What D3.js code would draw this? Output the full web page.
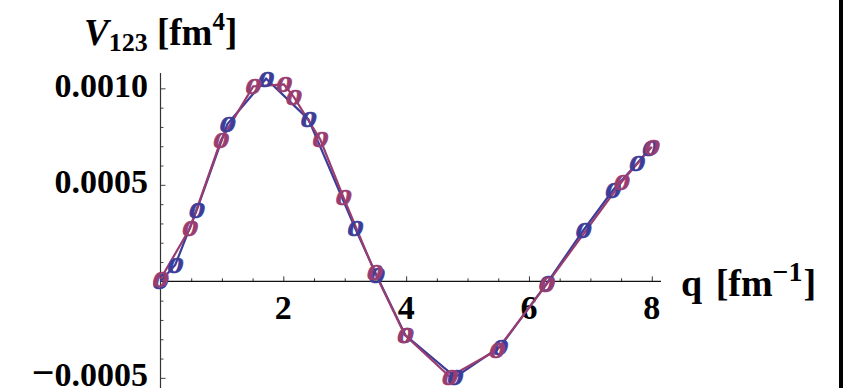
<!DOCTYPE html>
<html>
<head>
<meta charset="utf-8">
<script src="https://cdn.jsdelivr.net/npm/d3@7"></script>
<style>
  html, body { margin: 0; padding: 0; background: #ffffff; }
  svg { display: block; }
  text { font-family: "Liberation Serif", "Times New Roman", serif; font-weight: bold; }
</style>
</head>
<body>
<div id="plot"></div>
<script>
// data (q in fm^-1, V123 in fm^4)
const blueQ = [0, 0.24, 0.59, 1.09, 1.72, 2.41, 3.17, 3.52, 3.99, 4.80, 5.53, 6.29, 6.89, 7.37, 7.76, 7.97];
const blueV = [0, 0.000085, 0.000369, 0.000815, 0.00105, 0.000839, 0.000275, 0.00003, -0.00028, -0.000496, -0.000339, -0.00001, 0.000266, 0.000473, 0.000611, 0.000689];

const purpleQ = [0, 0.48, 0.985, 1.51, 2.01, 2.17, 2.60, 2.98, 3.49, 3.98, 4.71, 5.48, 6.29, 7.51, 8.0];
const purpleV = [0.000012, 0.000275, 0.000732, 0.00101, 0.00102, 0.000956, 0.000736, 0.000435, 0.000045, -0.000278, -0.000494, -0.000356, -0.000014, 0.000516, 0.000697];

const xTickLabels = [2, 4, 6, 8];
const yTickLabels = [0.0010, 0.0005, -0.0005];

const margins = {width: 843, height: 388};
const blueColor = "#3d3d99";
const purpleColor = "#993d71";

const svg = d3.select('#plot')
    .append('svg')
    .attr('width', margins.width)
    .attr('height', margins.height);

const xScale = d3.scaleLinear()
    .domain([0, 8.15])
    .range([160.5, 661]);

const yScale = d3.scaleLinear()
    .domain([-0.00055, 0.00108])
    .range([387.5, 72.9]);

// right frame edge
svg.append("rect")
    .attr("x", 839)
    .attr("y", 0)
    .attr("width", 4)
    .attr("height", margins.height)
    .style("fill", "#000");

// x axis (ticks point up)
const xMinor = d3.range(0.5, 8.01, 0.5).filter(d => d % 2 !== 0);
svg.append("g")
    .attr("transform", "translate(0," + yScale(0) + ")")
    .call(d3.axisTop(xScale).tickValues(xMinor).tickSize(3).tickFormat("").tickSizeOuter(0))
    .call(g => g.select(".domain").remove())
    .selectAll("line").style("stroke", "#333");

svg.append("g")
    .attr("transform", "translate(0," + yScale(0) + ")")
    .call(d3.axisTop(xScale).tickValues(xTickLabels).tickSize(5).tickFormat("").tickSizeOuter(0))
    .call(g => g.select(".domain").remove())
    .selectAll("line").style("stroke", "#333");

svg.append("line")
    .attr("x1", xScale(0))
    .attr("x2", xScale(8.15))
    .attr("y1", yScale(0))
    .attr("y2", yScale(0))
    .style("stroke", "#111")
    .style("stroke-width", 1.2);

// y axis (ticks point right)
const yMinor = d3.range(-5, 11).map(d => d * 0.0001).filter(d => Math.round(d * 10000) % 5 !== 0);
svg.append("g")
    .attr("transform", "translate(" + xScale(0) + ",0)")
    .call(d3.axisRight(yScale).tickValues(yMinor).tickSize(3).tickFormat("").tickSizeOuter(0))
    .call(g => g.select(".domain").remove())
    .selectAll("line").style("stroke", "#444");

svg.append("g")
    .attr("transform", "translate(" + xScale(0) + ",0)")
    .call(d3.axisRight(yScale).tickValues(yTickLabels).tickSize(5).tickFormat("").tickSizeOuter(0))
    .call(g => g.select(".domain").remove())
    .selectAll("line").style("stroke", "#444");

svg.append("line")
    .attr("x1", xScale(0))
    .attr("x2", xScale(0))
    .attr("y1", yScale(0.00108))
    .attr("y2", margins.height)
    .style("stroke", "#333")
    .style("stroke-width", 1.2);

// tick labels
svg.append("g").selectAll("text")
    .data(xTickLabels)
    .enter().append("text")
    .attr("x", d => xScale(d))
    .attr("y", yScale(0) + 38)
    .attr("text-anchor", "middle")
    .style("font-size", "34px")
    .text(d => d);

const yLabels = svg.append("g").selectAll("text")
    .data(yTickLabels)
    .enter().append("text")
    .attr("x", 148)
    .attr("y", d => yScale(d))
    .attr("dy", "0.24em")
    .attr("text-anchor", "end")
    .style("font-size", "34px");
yLabels.filter(d => d < 0).append("tspan").style("font-size", "40px").text("\u2212");
yLabels.append("tspan")
    .text(d => Math.abs(d).toFixed(4));

// axis labels
const yLabel = svg.append("text")
    .attr("x", 84)
    .attr("y", 45)
    .style("font-size", "37px");
yLabel.append("tspan").style("font-style", "italic").text("V");
yLabel.append("tspan").attr("dy", 6).style("font-size", "26px").text("123");
yLabel.append("tspan").attr("dy", -6).text(" [fm");
yLabel.append("tspan").attr("dy", -15).style("font-size", "25px").text("4");
yLabel.append("tspan").attr("dy", 15).text("]");

const xLabel = svg.append("text")
    .attr("x", 681)
    .attr("y", 296)
    .style("font-size", "38px");
xLabel.append("tspan").text("q");
xLabel.append("tspan").attr("dx", 4).text(" [fm");
xLabel.append("tspan").attr("dy", -15).style("font-size", "28px").text("\u22121");
xLabel.append("tspan").attr("dy", 15).attr("dx", 1).text("]");

// series
const blueData = blueQ.map((q, i) => [q, blueV[i]]);
const purpleData = purpleQ.map((q, i) => [q, purpleV[i]]);

const line = d3.line()
    .x(d => xScale(d[0]))
    .y(d => yScale(d[1]));

svg.append("path")
    .datum(blueData)
    .attr("d", line)
    .style("fill", "none")
    .style("stroke", blueColor)
    .style("stroke-width", 2.2);

svg.append("path")
    .datum(purpleData)
    .attr("d", line)
    .style("fill", "none")
    .style("stroke", purpleColor)
    .style("stroke-width", 2.2);

function drawMarkers(data, color) {
    svg.append("g").selectAll("text")
        .data(data)
        .enter().append("text")
        .attr("transform", d => "translate(" + xScale(d[0]) + "," + yScale(d[1]) + ") scale(1.4,1)")
        .attr("dy", "0.34em")
        .attr("text-anchor", "middle")
        .style("font-size", "23px")
        .style("font-style", "italic")
        .style("fill", color)
        .style("stroke", color)
        .style("stroke-width", 0.6)
        .text("0");
}

drawMarkers(blueData, blueColor);
drawMarkers(purpleData, purpleColor);
</script>
</body>
</html>
